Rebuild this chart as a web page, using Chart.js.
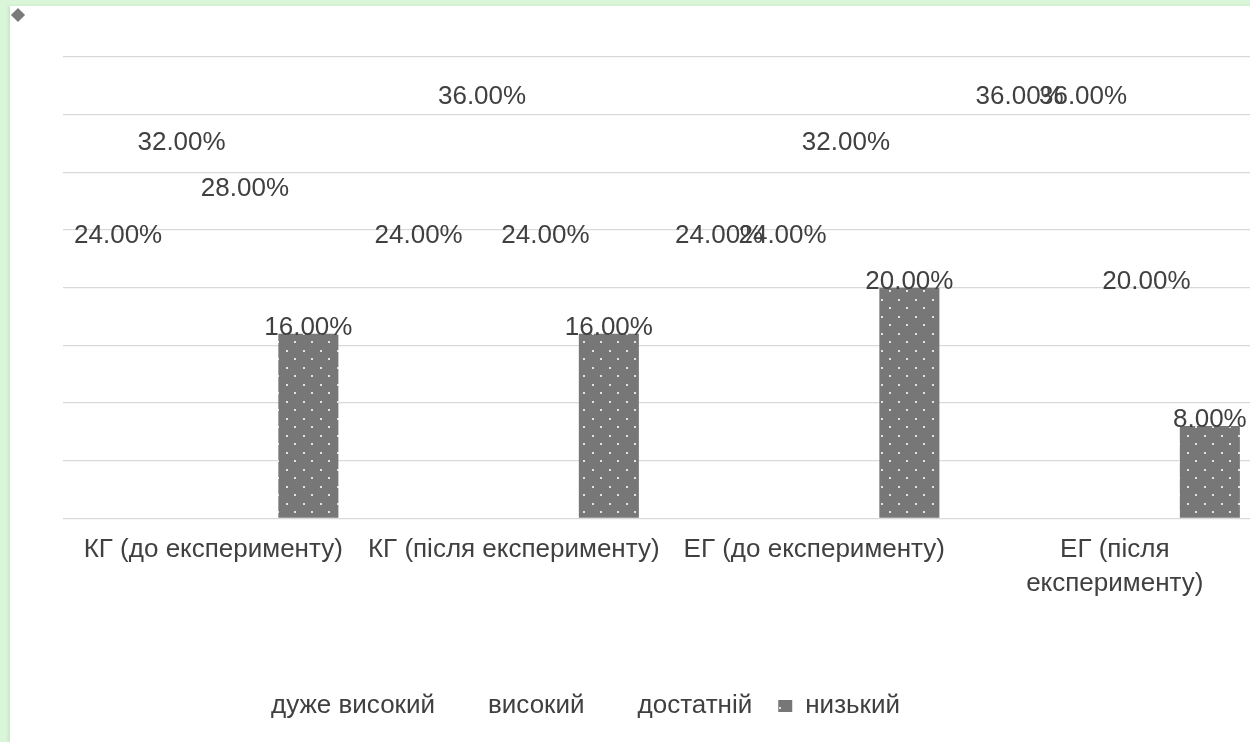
<!DOCTYPE html>
<html>
<head>
<meta charset="utf-8">
<script src="https://cdn.jsdelivr.net/npm/chart.js"></script>
<style>
  html, body { margin: 0; padding: 0; }
  body { width: 1250px; height: 742px; overflow: hidden; background: #d9f6d9; position: relative; }
  #marco { position: absolute; left: 10px; top: 6px; width: 1270px; height: 736px; background: #fff; box-shadow: -2px 0 3px rgba(0,0,0,0.07); }
  #rombo { position: absolute; left: 13px; top: 10px; width: 10px; height: 10px; background: #7a7a7a; transform: rotate(45deg); }
</style>
</head>
<body>
<div id="marco"><canvas id="nivel"></canvas></div>
<div id="rombo"></div>
<script>
// Categorías del eje X
const categorias = ["КГ (до експерименту)", "КГ (після експерименту)", "ЕГ (до експерименту)", ["ЕГ (після", "експерименту)"]];

// Nombres de los niveles (leyenda)
const niveles = ["дуже високий", "високий", "достатній", "низький"];

// Porcentajes de cada nivel por grupo
const duzheVysokyi = [24, 24, 24, 36];
const vysokyi = [32, 36, 24, 36];
const dostatnii = [28, 24, 32, 20];
const nyzkyi = [16, 16, 20, 8];

const fuente = "'Liberation Sans', Arial, sans-serif";

// Trama gris con puntos blancos para las barras visibles
function tramaPuntos() {
  const c = document.createElement("canvas");
  c.width = 17;
  c.height = 17;
  const g = c.getContext("2d");
  g.fillStyle = "#777777";
  g.fillRect(0, 0, 17, 17);
  g.fillStyle = "#e2e2e2";
  g.fillRect(4, 4, 2, 2);
  g.fillRect(12, 12, 2, 2);
  return g.createPattern(c, "repeat");
}

// Dibuja el porcentaje encima de cada barra
const etiquetas = {
  id: "etiquetas",
  afterDatasetsDraw(chart) {
    const ctx = chart.ctx;
    ctx.save();
    ctx.font = "26px " + fuente;
    ctx.fillStyle = "#404040";
    ctx.textAlign = "center";
    ctx.textBaseline = "alphabetic";
    chart.data.datasets.forEach((ds, i) => {
      chart.getDatasetMeta(i).data.forEach((barra, j) => {
        ctx.fillText(ds.data[j].toFixed(2) + "%", barra.x, barra.y + 1);
      });
    });
    ctx.restore();
  }
};

// Corre la leyenda hacia la izquierda
const moverLeyenda = {
  id: "moverLeyenda",
  afterLayout(chart) {
    chart.legend.left -= 92;
    chart.legend.right -= 92;
  }
};

const transparente = "rgba(0,0,0,0)";
const valores = [duzheVysokyi, vysokyi, dostatnii, nyzkyi];

const ctx = document.getElementById("nivel").getContext("2d");
const chart = new Chart(ctx, {
  type: "bar",
  data: {
    labels: categorias,
    datasets: niveles.map((nombre, i) => ({
      label: nombre,
      data: valores[i],
      backgroundColor: i === 3 ? tramaPuntos() : transparente,
      borderColor: transparente,
      borderWidth: 0,
      categoryPercentage: 0.844,
      barPercentage: 0.947
    }))
  },
  options: {
    responsive: true,
    maintainAspectRatio: false,
    animation: false,
    layout: {
      padding: { left: 53, right: 15, top: 51, bottom: 13 }
    },
    plugins: {
      tooltip: { enabled: false },
      legend: {
        position: "bottom",
        labels: {
          boxWidth: 14,
          boxHeight: 12,
          padding: 26,
          color: "#404040",
          font: { family: fuente, size: 26 }
        }
      }
    },
    scales: {
      x: {
        grid: { display: false },
        border: { display: false },
        afterFit(scale) {
          scale.height += 59;
        },
        ticks: {
          color: "#404040",
          font: { family: fuente, size: 26, lineHeight: 1.3 },
          padding: 7,
          maxRotation: 0,
          autoSkip: false
        }
      },
      y: {
        min: 0,
        max: 40,
        border: { display: false },
        grid: { color: "#d9d9d9", lineWidth: 1.3, drawTicks: false },
        ticks: { display: false, stepSize: 5 }
      }
    }
  },
  plugins: [etiquetas, moverLeyenda]
});
</script>
</body>
</html>
